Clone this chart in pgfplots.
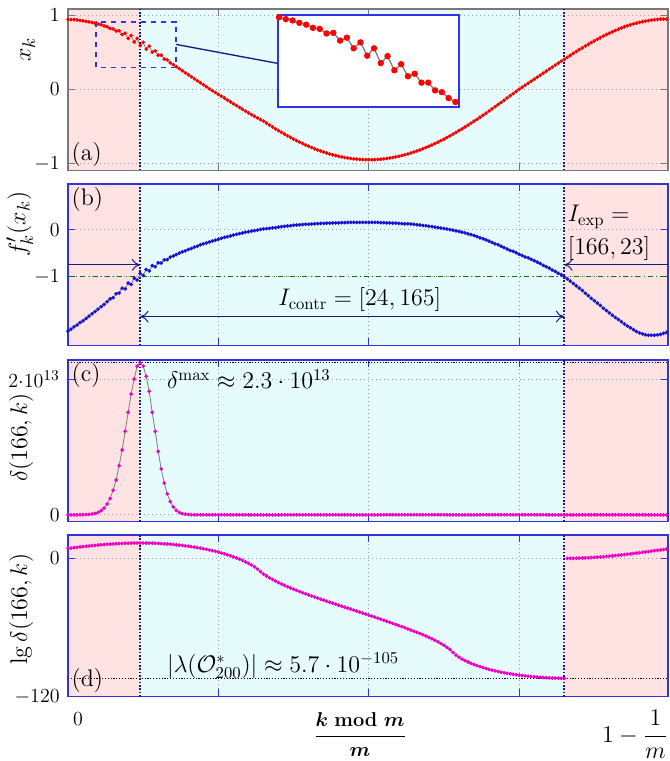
\documentclass[border=0pt]{standalone}
\usepackage{pgfplots}
\usepackage{pgfplotstable}
\pgfplotsset{compat=1.18}
\usetikzlibrary{arrows.meta}
\usepackage{amsmath}

\definecolor{pinkbg}{RGB}{255,226,226}
\definecolor{cyanbg}{RGB}{230,251,252}
\definecolor{frameblue}{RGB}{50,50,225}
\definecolor{navyline}{RGB}{25,25,130}
\definecolor{magentam}{RGB}{240,0,200}
\definecolor{bluem}{RGB}{20,20,210}
\definecolor{darkgreen}{RGB}{0,125,0}
\definecolor{framegray}{RGB}{120,120,120}

\newcommand{\tl}[1]{{\fontsize{12.5}{15}\selectfont#1\kern1.5pt}}

\pgfplotstableread[row sep=\\]{
k xa fb dc ld\\
0 0.940 -2.17 0 8.62\\
1 0.939 -2.13 0 8.95\\
2 0.937 -2.08 0 9.28\\
3 0.933 -2.04 0 9.60\\
4 0.928 -1.99 0.001 9.91\\
5 0.922 -1.95 0.002 10.21\\
6 0.915 -1.90 0.003 10.50\\
7 0.907 -1.85 0.006 10.78\\
8 0.899 -1.80 0.011 11.05\\
9 0.890 -1.75 0.020 11.30\\
10 0.878 -1.70 0.035 11.55\\
11 0.869 -1.65 0.060 11.78\\
12 0.853 -1.60 0.098 11.99\\
13 0.841 -1.54 0.158 12.20\\
14 0.820 -1.48 0.240 12.38\\
15 0.813 -1.455 0.363 12.56\\
16 0.783 -1.37 0.513 12.71\\
17 0.787 -1.355 0.724 12.86\\
18 0.736 -1.25 0.955 12.98\\
19 0.755 -1.265 1.230 13.09\\
20 0.685 -1.14 1.510 13.18\\
21 0.724 -1.17 1.780 13.25\\
22 0.636 -1.035 2.000 13.30\\
23 0.685 -1.075 2.190 13.34\\
24 0.587 -0.935 2.240 13.35\\
25 0.633 -0.975 2.190 13.34\\
26 0.540 -0.85 2.040 13.31\\
27 0.580 -0.88 1.820 13.26\\
28 0.500 -0.765 1.510 13.18\\
29 0.517 -0.79 1.230 13.09\\
30 0.458 -0.705 0.933 12.97\\
31 0.458 -0.71 0.676 12.83\\
32 0.407 -0.645 0.468 12.67\\
33 0.395 -0.64 0.309 12.49\\
34 0.356 -0.585 0.195 12.29\\
35 0.330 -0.56 0.115 12.06\\
36 0.303 -0.53 0.065 11.81\\
37 0.276 -0.50 0.034 11.53\\
38 0.249 -0.47 0.017 11.23\\
39 0.222 -0.45 0.008 10.91\\
40 0.195 -0.42 0.004 10.56\\
41 0.168 -0.40 0.0015 10.18\\
42 0.141 -0.37 0.0006 9.78\\
43 0.114 -0.35 0 9.35\\
44 0.087 -0.32 0 8.90\\
45 0.060 -0.30 0 8.40\\
46 0.033 -0.28 0 7.88\\
47 0.006 -0.26 0 7.33\\
48 -0.020 -0.24 0 6.74\\
49 -0.045 -0.22 0 6.12\\
50 -0.070 -0.20 0 5.46\\
51 -0.095 -0.18 0 4.73\\
52 -0.120 -0.16 0 3.97\\
53 -0.145 -0.145 0 3.14\\
54 -0.170 -0.13 0 2.27\\
55 -0.195 -0.11 0 1.37\\
56 -0.220 -0.095 0 0.38\\
57 -0.245 -0.08 0 -0.66\\
58 -0.270 -0.065 0 -1.79\\
59 -0.295 -0.05 0 -3.00\\
60 -0.318 -0.04 0 -4.33\\
61 -0.341 -0.025 0 -5.75\\
62 -0.364 -0.015 0 -7.39\\
63 -0.387 -0.005 0 -9.23\\
64 -0.409 0.01 0 -11.56\\
65 -0.431 0.02 0 -13.58\\
66 -0.458 0.03 0 -15.31\\
67 -0.484 0.035 0 -16.86\\
68 -0.509 0.045 0 -18.34\\
69 -0.534 0.05 0 -19.72\\
70 -0.558 0.06 0 -21.05\\
71 -0.582 0.07 0 -22.29\\
72 -0.606 0.075 0 -23.48\\
73 -0.628 0.085 0 -24.63\\
74 -0.650 0.09 0 -25.72\\
75 -0.672 0.10 0 -26.80\\
76 -0.693 0.105 0 -27.82\\
77 -0.713 0.11 0 -28.83\\
78 -0.732 0.115 0 -29.82\\
79 -0.751 0.12 0 -30.78\\
80 -0.769 0.12 0 -31.73\\
81 -0.786 0.125 0 -32.68\\
82 -0.802 0.13 0 -33.60\\
83 -0.818 0.135 0 -34.52\\
84 -0.833 0.14 0 -35.41\\
85 -0.847 0.14 0 -36.29\\
86 -0.860 0.145 0 -37.18\\
87 -0.872 0.145 0 -38.04\\
88 -0.883 0.15 0 -38.91\\
89 -0.894 0.15 0 -39.79\\
90 -0.904 0.15 0 -40.68\\
91 -0.912 0.155 0 -41.56\\
92 -0.920 0.155 0 -42.42\\
93 -0.927 0.16 0 -43.29\\
94 -0.933 0.16 0 -44.15\\
95 -0.938 0.16 0 -45.00\\
96 -0.943 0.16 0 -45.86\\
97 -0.946 0.16 0 -46.71\\
98 -0.948 0.16 0 -47.56\\
99 -0.950 0.16 0 -48.42\\
100 -0.950 0.16 0 -49.27\\
101 -0.950 0.16 0 -50.17\\
102 -0.948 0.16 0 -51.06\\
103 -0.946 0.16 0 -51.96\\
104 -0.943 0.155 0 -52.86\\
105 -0.938 0.155 0 -53.77\\
106 -0.933 0.15 0 -54.68\\
107 -0.927 0.15 0 -55.60\\
108 -0.920 0.145 0 -56.52\\
109 -0.912 0.145 0 -57.46\\
110 -0.904 0.14 0 -58.40\\
111 -0.894 0.135 0 -59.36\\
112 -0.883 0.13 0 -60.32\\
113 -0.872 0.13 0 -61.29\\
114 -0.860 0.125 0 -62.27\\
115 -0.847 0.12 0 -63.26\\
116 -0.833 0.11 0 -64.27\\
117 -0.818 0.105 0 -65.33\\
118 -0.802 0.095 0 -66.40\\
119 -0.786 0.09 0 -67.51\\
120 -0.769 0.08 0 -68.65\\
121 -0.751 0.07 0 -69.84\\
122 -0.732 0.06 0 -71.08\\
123 -0.713 0.05 0 -72.51\\
124 -0.693 0.04 0 -74.01\\
125 -0.672 0.03 0 -75.61\\
126 -0.650 0.02 0 -77.33\\
127 -0.628 0.005 0 -79.23\\
128 -0.606 -0.005 0 -81.73\\
129 -0.582 -0.02 0 -84.09\\
130 -0.558 -0.03 0 -85.85\\
131 -0.534 -0.05 0 -87.43\\
132 -0.509 -0.065 0 -88.79\\
133 -0.484 -0.085 0 -90.03\\
134 -0.458 -0.10 0 -91.16\\
135 -0.431 -0.12 0 -92.22\\
136 -0.405 -0.145 0 -93.20\\
137 -0.377 -0.17 0 -94.10\\
138 -0.350 -0.19 0 -94.93\\
139 -0.322 -0.215 0 -95.71\\
140 -0.294 -0.24 0 -96.44\\
141 -0.265 -0.27 0 -97.11\\
142 -0.236 -0.30 0 -97.74\\
143 -0.207 -0.32 0 -98.32\\
144 -0.178 -0.35 0 -98.88\\
145 -0.149 -0.38 0 -99.39\\
146 -0.119 -0.41 0 -99.86\\
147 -0.089 -0.44 0 -100.29\\
148 -0.060 -0.46 0 -100.69\\
149 -0.030 -0.49 0 -101.07\\
150 0.000 -0.52 0 -101.43\\
151 0.027 -0.55 0 -101.75\\
152 0.054 -0.58 0 -102.06\\
153 0.081 -0.60 0 -102.34\\
154 0.108 -0.63 0 -102.61\\
155 0.135 -0.66 0 -102.85\\
156 0.162 -0.69 0 -103.08\\
157 0.189 -0.72 0 -103.28\\
158 0.216 -0.76 0 -103.47\\
159 0.243 -0.79 0 -103.63\\
160 0.270 -0.82 0 -103.78\\
161 0.297 -0.86 0 -103.91\\
162 0.324 -0.89 0 -104.02\\
163 0.351 -0.93 0 -104.11\\
164 0.377 -0.96 0 -104.19\\
165 0.403 -1.00 0 -104.25\\
166 0.430 -1.05 0 0.00\\
167 0.456 -1.10 0 0.02\\
168 0.482 -1.15 0 0.06\\
169 0.508 -1.20 0 0.12\\
170 0.533 -1.25 0 0.20\\
171 0.558 -1.30 0 0.30\\
172 0.582 -1.36 0 0.42\\
173 0.606 -1.41 0 0.55\\
174 0.629 -1.47 0 0.70\\
175 0.652 -1.52 0 0.86\\
176 0.674 -1.57 0 1.05\\
177 0.695 -1.62 0 1.24\\
178 0.716 -1.68 0 1.45\\
179 0.736 -1.73 0 1.68\\
180 0.755 -1.78 0 1.92\\
181 0.774 -1.83 0 2.17\\
182 0.792 -1.88 0 2.43\\
183 0.809 -1.92 0 2.70\\
184 0.825 -1.97 0 2.99\\
185 0.841 -2.02 0 3.28\\
186 0.855 -2.06 0 3.59\\
187 0.868 -2.10 0 3.90\\
188 0.880 -2.14 0 4.22\\
189 0.891 -2.18 0 4.55\\
190 0.901 -2.21 0 4.89\\
191 0.910 -2.23 0 5.23\\
192 0.918 -2.25 0 5.58\\
193 0.925 -2.26 0 5.93\\
194 0.931 -2.26 0 6.29\\
195 0.936 -2.26 0 6.64\\
196 0.940 -2.25 0 7.00\\
197 0.943 -2.24 0 7.35\\
198 0.945 -2.22 0 7.70\\
199 0.946 -2.20 0 8.04\\
}\data

% #1 = ymin, #2 = ymax
\newcommand{\bgshade}[2]{%
  \addplot[draw=none, fill=pinkbg, on layer=axis background] coordinates {(0,#1) (24,#1) (24,#2) (0,#2)};
  \addplot[draw=none, fill=cyanbg, on layer=axis background] coordinates {(24,#1) (165,#1) (165,#2) (24,#2)};
  \addplot[draw=none, fill=pinkbg, on layer=axis background] coordinates {(165,#1) (199.5,#1) (199.5,#2) (165,#2)};}
\newcommand{\vlines}[2]{%
  \draw[navyline, densely dotted, line width=1pt] (axis cs:24,#1) -- (axis cs:24,#2);
  \draw[navyline, densely dotted, line width=1pt] (axis cs:165,#1) -- (axis cs:165,#2);}

\pgfplotsset{
  panel/.style={
    set layers,
    scale only axis,
    width=360pt, height=96.9pt,
    anchor=north west,
    xmin=0, xmax=199.5,
    xtick={50,100,150},
    xticklabels={},
    grid=major,
    grid style={dotted, gray!75, line width=0.6pt},
    axis line style={frameblue, line width=0.9pt},
    tick style={frameblue, line width=0.6pt},
    label style={font=\fontsize{15.5}{18}\selectfont},
    ylabel style={anchor=south},
  },
  dots/.style={color=gray, line width=0.5pt, mark=*, mark size=0.85pt},
}

\begin{document}
\begin{tikzpicture}

% (a)
\begin{axis}[panel, at={(0pt,0pt)}, ymin=-1.095, ymax=1.081, ytick={-1,0,1},
  yticklabels={\tl{$-1$},\tl{$0$},\tl{$1$}},
  ylabel={$x_k$}, ylabel style={at={(axis description cs:-0.045,0.75)}},
  axis line style={framegray, line width=0.9pt}, tick style={framegray}]
\bgshade{-1.095}{1.081}
\addplot[dots, mark options={red}] table[x=k,y=xa]{\data};
\vlines{-1.095}{1.081}
\draw[frameblue, dashed, line width=0.8pt] (axis cs:9.3,0.905) rectangle (axis cs:35.9,0.297);
\draw[navyline, line width=0.8pt] (axis cs:35.9,0.604) -- (axis cs:69.9,0.347);
\node[anchor=south west, font=\Large, inner sep=2pt] at (rel axis cs:0,0) {(a)};
\end{axis}

% inset
\begin{axis}[at={(126pt,-3.6pt)}, anchor=north west, scale only axis,
  width=108.6pt, height=55.2pt, xmin=8.85, xmax=35.53, ymin=0.297, ymax=0.905,
  xtick=\empty, ytick=\empty, axis background/.style={fill=white},
  axis line style={frameblue, line width=1pt}]
\addplot[color=gray, line width=0.8pt, mark=*, mark size=1.5pt, mark options={red}, restrict x to domain=9:35] table[x=k,y=xa]{\data};
\end{axis}

% (b)
\begin{axis}[panel, at={(0pt,-105pt)}, ymin=-2.48, ymax=0.985, ytick={-1,0},
  yticklabels={\tl{$-1$},\tl{$0$}},
  ylabel={$f'_k(x_k)$}, ylabel style={at={(axis description cs:-0.0483,0.75)}}]
\bgshade{-2.48}{0.985}
\draw[darkgreen, dash dot, line width=1pt] (axis cs:0,-1) -- (axis cs:199.5,-1);
\addplot[dots, mark options={bluem}] table[x=k,y=fb]{\data};
\vlines{-2.48}{0.985}
\draw[navyline, line width=0.6pt, -{To[length=5pt,width=7pt]}] (axis cs:0,-0.75) -- (axis cs:24,-0.75);
\draw[navyline, line width=0.6pt, -{To[length=5pt,width=7pt]}] (axis cs:199.5,-0.75) -- (axis cs:165,-0.75);
\draw[navyline, line width=0.6pt, {To[length=5pt,width=7pt]}-{To[length=5pt,width=7pt]}] (axis cs:24,-1.86) -- (axis cs:165,-1.86);
\node[font=\Large] at (axis cs:97,-1.5) {$I_{\mathrm{contr}}=[24,165]$};
\node[font=\Large, anchor=west, inner sep=1pt] at (axis cs:165.5,0.28) {$I_{\mathrm{exp}}=$};
\node[font=\Large, anchor=west, inner sep=1pt] at (axis cs:165.5,-0.39) {$[166,23]$};
\node[anchor=north west, font=\Large, inner sep=2pt] at (rel axis cs:0,1) {(b)};
\end{axis}

% (c)
\begin{axis}[panel, at={(0pt,-210.6pt)}, ymin=-0.099, ymax=2.281, ytick={0,2},
  yticklabels={\tl{$0$},\tl{$2{\cdot}10^{13}$}}, ylabel={$\delta(166,k)$},
  ylabel style={at={(axis description cs:-0.0483,0.52)}}]
\bgshade{-0.099}{2.281}
\draw[black, densely dotted, line width=0.7pt] (axis cs:0,2.24) -- (axis cs:199.5,2.24);
\addplot[dots, mark options={magentam}] table[x=k,y=dc]{\data};
\vlines{-0.099}{2.281}
\node[anchor=west, font=\Large] at (axis cs:31,2.0) {$\delta^{\max}\approx 2.3\cdot 10^{13}$};
\node[anchor=north west, font=\Large, inner sep=2pt] at (rel axis cs:0,1) {(c)};
\end{axis}

% (d)
\begin{axis}[panel, name=pd, at={(0pt,-315.6pt)}, ymin=-120, ymax=20.3, ytick={-120,0},
  yticklabels={\tl{$-120$},\tl{$0$}},
  ylabel={$\lg\delta(166,k)$}, ylabel style={at={(axis description cs:-0.0483,0.54)}}]
\bgshade{-120}{20.3}
\draw[black, densely dotted, line width=0.7pt] (axis cs:0,-104.24) -- (axis cs:199.5,-104.24);
\addplot[dots, mark options={magentam}, restrict x to domain=0:165] table[x=k,y=ld]{\data};
\addplot[dots, mark options={magentam}, restrict x to domain=166:199] table[x=k,y=ld]{\data};
\vlines{-120}{20.3}
\node[anchor=west, font=\Large] at (axis cs:31,-93) {$|\lambda(\mathcal{O}^*_{200})|\approx 5.7\cdot 10^{-105}$};
\node[anchor=south west, font=\Large, inner sep=2pt] at (rel axis cs:0,0) {(d)};
\end{axis}

\node[font=\fontsize{13}{15}\selectfont] at ([xshift=6pt,yshift=-13.8pt]pd.south west) {$0$};
\node[font=\Large, anchor=east, inner sep=0pt] at ([yshift=-22.8pt]pd.south east) {$1-\dfrac{1}{m}$};
\node[font=\large\boldmath] at ([xshift=-4.8pt,yshift=-22.8pt]pd.south) {$\dfrac{k \bmod m}{m}$};
\pgfresetboundingbox
\path[use as bounding box] (-40.8pt,5.4pt) rectangle (360.6pt,-451.2pt);
\end{tikzpicture}
\end{document}
